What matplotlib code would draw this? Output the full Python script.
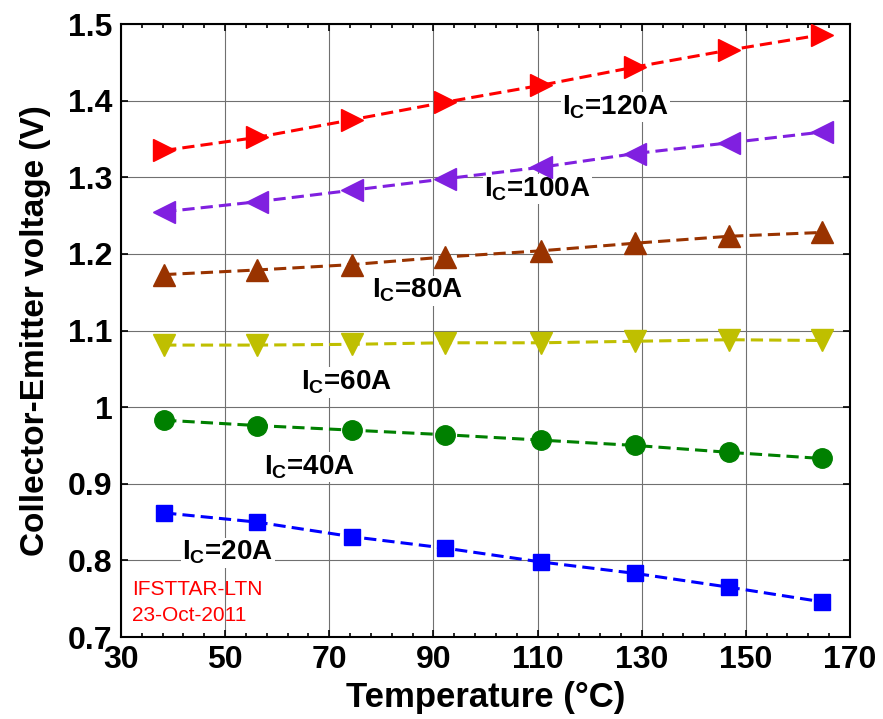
import matplotlib
matplotlib.use("Agg")
from matplotlib import pyplot as plt
import numpy as np

# Temperatures (degC) of the measurement points
temp = [38.3, 56.1, 74.3, 92.3, 110.6, 128.8, 146.8, 164.6]

# Collector-emitter voltage (V) for each collector current
v_20 = [0.862, 0.850, 0.831, 0.816, 0.798, 0.783, 0.765, 0.746]
v_40 = [0.983, 0.976, 0.970, 0.964, 0.957, 0.950, 0.941, 0.933]
v_60 = [1.081, 1.081, 1.082, 1.084, 1.084, 1.086, 1.088, 1.087]
v_80 = [1.173, 1.179, 1.186, 1.196, 1.204, 1.214, 1.223, 1.228]
v_100 = [1.255, 1.268, 1.283, 1.298, 1.313, 1.331, 1.345, 1.359]
v_120 = [1.335, 1.352, 1.375, 1.398, 1.420, 1.444, 1.466, 1.486]

labels = ["20A", "40A", "60A", "80A", "100A", "120A"]
label_x = [50.5, 66.3, 73.4, 87.0, 110.0, 125.0]
label_y = [0.810, 0.922, 1.032, 1.152, 1.285, 1.392]

xticks = [30, 50, 70, 90, 110, 130, 150, 170]
yticks = [0.7, 0.8, 0.9, 1.0, 1.1, 1.2, 1.3, 1.4, 1.5]
ytick_labels = ['0.7', '0.8', '0.9', '1', '1.1', '1.2', '1.3', '1.4', '1.5']

plt.rcParams['font.family'] = ['Liberation Sans', 'DejaVu Sans']
plt.rcParams['mathtext.fontset'] = 'custom'
plt.rcParams['mathtext.rm'] = 'Liberation Sans:bold'
plt.rcParams['mathtext.bf'] = 'Liberation Sans:bold'
plt.rcParams['mathtext.it'] = 'Liberation Sans:bold'

fig = plt.figure(figsize=(8.83, 7.19), dpi=100)
ax = fig.add_axes([0.137, 0.114, 0.8256, 0.8526])

series = [
    (v_20, '#0000ff', 's', 12),
    (v_40, '#008000', 'o', 14),
    (v_60, '#bfbf00', 'v', 16),
    (v_80, '#993300', '^', 16),
    (v_100, '#8020e0', '<', 16),
    (v_120, '#ff0000', '>', 16),
]
for vals, col, mk, ms in series:
    ax.plot(temp, vals, color=col, lw=2.2, dashes=(4, 2), marker=mk,
            markersize=ms, markeredgecolor=col, zorder=3)

for lab, lx, ly in zip(labels, label_x, label_y):
    ax.text(lx, ly, r'$\mathrm{I}_{\mathrm{C}}$=' + lab, fontsize=20,
            fontweight='bold', ha='center', va='center', zorder=2,
            bbox=dict(facecolor='white', edgecolor='none', pad=1))

ax.text(0.015, 0.077, 'IFSTTAR-LTN', color='red', fontsize=15,
        transform=ax.transAxes, va='center')
ax.text(0.015, 0.035, '23-Oct-2011', color='red', fontsize=15,
        transform=ax.transAxes, va='center')

ax.set_xlim(30, 170)
ax.set_ylim(0.7, 1.5)
ax.set_xticks(xticks)
ax.set_xticks(np.arange(30, 171, 4), minor=True)
ax.set_yticks(yticks)
ax.set_yticklabels(ytick_labels)

ax.grid(True, which='major', color='#707070', lw=0.8, zorder=0)
ax.tick_params(which='both', direction='in', top=True, right=True,
               labelsize=23, width=1.2)
ax.tick_params(which='major', length=5, pad=6)
ax.tick_params(which='minor', length=3)
for lab in ax.get_xticklabels() + ax.get_yticklabels():
    lab.set_fontweight('bold')
for sp in ax.spines.values():
    sp.set_linewidth(1.5)

ax.set_xlabel('Temperature (°C)', fontsize=25, fontweight='bold', labelpad=4)
ax.set_ylabel('Collector-Emitter voltage (V)', fontsize=24, fontweight='bold',
              labelpad=12)

fig.savefig('out.png', dpi=100)
